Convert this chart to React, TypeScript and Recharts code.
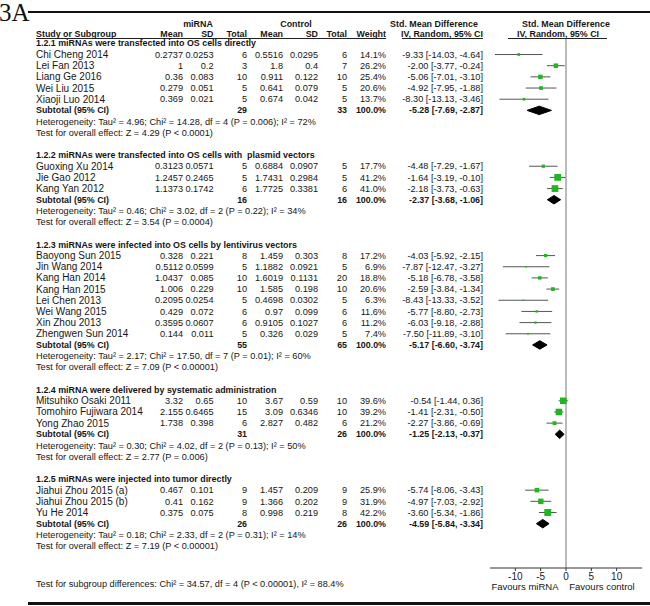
import React from 'react';
import { ScatterChart, Scatter, XAxis, YAxis, ErrorBar, ReferenceLine } from 'recharts';

// ---------- data ----------
const groupTitles = [
  '1.2.1 miRNAs were transfected into OS cells directly',
  '1.2.2 miRNAs were transfected into OS cells with  plasmid vectors',
  '1.2.3 miRNAs were infected into OS cells by lentivirus vectors',
  '1.2.4 miRNA were delivered by systematic administration',
  '1.2.5 miRNAs were injected into tumor directly',
];

const studyNames = [
  'Chi Cheng 2014', 'Lei Fan 2013', 'Liang Ge 2016', 'Wei Liu 2015', 'Xiaoji Luo 2014',
  'Guoxing Xu 2014', 'Jie Gao 2012', 'Kang Yan 2012',
  'Baoyong Sun 2015', 'Jin Wang 2014', 'Kang Han 2014', 'Kang Han 2015', 'Lei Chen 2013', 'Wei Wang 2015', 'Xin Zhou 2013', 'Zhengwen Sun 2014',
  'Mitsuhiko Osaki 2011', 'Tomohiro Fujiwara 2014', 'Yong Zhao 2015',
  'Jiahui Zhou 2015 (a)', 'Jiahui Zhou 2015 (b)', 'Yu He 2014',
];
const studyGroup = [0, 0, 0, 0, 0, 1, 1, 1, 2, 2, 2, 2, 2, 2, 2, 2, 3, 3, 3, 4, 4, 4];
const mirnaMean = ['0.2737', '1', '0.36', '0.279', '0.369', '0.3123', '1.2457', '1.1373', '0.328', '0.5112', '1.0437', '1.006', '0.2095', '0.429', '0.3595', '0.144', '3.32', '2.155', '1.738', '0.467', '0.41', '0.375'];
const mirnaSD = ['0.0253', '0.2', '0.083', '0.051', '0.021', '0.0571', '0.2465', '0.1742', '0.221', '0.0599', '0.085', '0.229', '0.0254', '0.072', '0.0607', '0.011', '0.65', '0.6465', '0.398', '0.101', '0.162', '0.075'];
const mirnaTotal = [6, 3, 10, 5, 5, 5, 5, 6, 8, 5, 10, 10, 5, 6, 6, 5, 10, 15, 6, 9, 9, 8];
const controlMean = ['0.5516', '1.8', '0.911', '0.641', '0.674', '0.6884', '1.7431', '1.7725', '1.459', '1.1882', '1.6019', '1.585', '0.4698', '0.97', '0.9105', '0.326', '3.67', '3.09', '2.827', '1.457', '1.366', '0.998'];
const controlSD = ['0.0295', '0.4', '0.122', '0.079', '0.042', '0.0907', '0.2984', '0.3381', '0.303', '0.0921', '0.1131', '0.198', '0.0302', '0.099', '0.1027', '0.029', '0.59', '0.6346', '0.482', '0.209', '0.202', '0.219'];
const controlTotal = [6, 7, 10, 5, 5, 5, 5, 6, 8, 5, 20, 10, 5, 6, 6, 5, 10, 10, 6, 9, 9, 8];
const weightPct = [14.1, 26.2, 25.4, 20.6, 13.7, 17.7, 41.2, 41.0, 17.2, 6.9, 18.8, 20.6, 6.3, 11.6, 11.2, 7.4, 39.6, 39.2, 21.2, 25.9, 31.9, 42.2];
const smd = [-9.33, -2.0, -5.06, -4.92, -8.3, -4.48, -1.64, -2.18, -4.03, -7.87, -5.18, -2.59, -8.43, -5.77, -6.03, -7.5, -0.54, -1.41, -2.27, -5.74, -4.97, -3.6];
const ciLower = [-14.03, -3.77, -7.01, -7.95, -13.13, -7.29, -3.19, -3.73, -5.92, -12.47, -6.78, -3.84, -13.33, -8.8, -9.18, -11.89, -1.44, -2.31, -3.86, -8.06, -7.03, -5.34];
const ciUpper = [-4.64, -0.24, -3.1, -1.88, -3.46, -1.67, -0.1, -0.63, -2.15, -3.27, -3.58, -1.34, -3.52, -2.73, -2.88, -3.1, 0.36, -0.5, -0.69, -3.43, -2.92, -1.86];

const subMirnaTotal = [29, 16, 55, 31, 26];
const subControlTotal = [33, 16, 65, 26, 26];
const subSmd = [-5.28, -2.37, -5.17, -1.25, -4.59];
const subLower = [-7.69, -3.68, -6.6, -2.13, -5.84];
const subUpper = [-2.87, -1.06, -3.74, -0.37, -3.34];
const heterogeneity = [
  'Heterogeneity: Tau\u00b2 = 4.96; Chi\u00b2 = 14.28, df = 4 (P = 0.006); I\u00b2 = 72%',
  'Heterogeneity: Tau\u00b2 = 0.46; Chi\u00b2 = 3.02, df = 2 (P = 0.22); I\u00b2 = 34%',
  'Heterogeneity: Tau\u00b2 = 2.17; Chi\u00b2 = 17.50, df = 7 (P = 0.01); I\u00b2 = 60%',
  'Heterogeneity: Tau\u00b2 = 0.30; Chi\u00b2 = 4.02, df = 2 (P = 0.13); I\u00b2 = 50%',
  'Heterogeneity: Tau\u00b2 = 0.18; Chi\u00b2 = 2.33, df = 2 (P = 0.31); I\u00b2 = 14%',
];
const overallEffect = [
  'Test for overall effect: Z = 4.29 (P < 0.0001)',
  'Test for overall effect: Z = 3.54 (P = 0.0004)',
  'Test for overall effect: Z = 7.09 (P < 0.00001)',
  'Test for overall effect: Z = 2.77 (P = 0.006)',
  'Test for overall effect: Z = 7.19 (P < 0.00001)',
];
const subgroupTest = 'Test for subgroup differences: Chi\u00b2 = 34.57, df = 4 (P < 0.00001), I\u00b2 = 88.4%';
const headerGroups = ['miRNA', 'Control', 'Std. Mean Difference', 'Std. Mean Difference'];
const headerCols = ['Mean', 'SD', 'Total', 'Mean', 'SD', 'Total', 'Weight', 'IV, Random, 95% CI'];
const plotHeader = 'IV, Random, 95% CI';
const xTicks = [-10, -5, 0, 5, 10];
const favourLabels = ['Favours miRNA', 'Favours control'];

// ---------- layout / style ----------
const FONT = '"Liberation Sans", Arial, Helvetica, sans-serif';
const TEXT = '#161616';
const GREEN = '#1cb81c';
const NAME = 10;
const NUM = 9.2;
const NOTE = 9.2;
const BOLD = 8.9;
const COLS = [183, 213.5, 247, 283, 318, 347, 386, 483];
const NAME_X = 36;
const Y_TOP = -1.39;
const Y_BOTTOM = 45.97;

const fmt = (v: number) => v.toFixed(2);
const ciText = (e: number, l: number, u: number) => `${fmt(e)} [${fmt(l)}, ${fmt(u)}]`;

// build rows
type TRow = { x: number; y: number; kind: string; i: number };
const tableRows: TRow[] = [];
const studyPoints: { x: number; y: number; err: number[]; w: number }[] = [];
const diamondSeries: { x: number; y: number }[][] = [];
{
  let idx = 0;
  groupTitles.forEach((_, g) => {
    tableRows.push({ x: 0, y: idx - 1, kind: 'group', i: g });
    studyNames.forEach((__, s) => {
      if (studyGroup[s] !== g) return;
      tableRows.push({ x: 0, y: idx, kind: 'study', i: s });
      studyPoints.push({ x: smd[s], y: idx, err: [smd[s] - ciLower[s], ciUpper[s] - smd[s]], w: weightPct[s] });
      idx++;
    });
    tableRows.push({ x: 0, y: idx, kind: 'subtotal', i: g });
    const h = 0.38;
    diamondSeries.push([
      { x: subLower[g], y: idx },
      { x: subSmd[g], y: idx - h },
      { x: subUpper[g], y: idx },
      { x: subSmd[g], y: idx + h },
      { x: subLower[g], y: idx },
    ]);
    idx++;
    tableRows.push({ x: 0, y: idx, kind: 'het', i: g });
    idx++;
    tableRows.push({ x: 0, y: idx, kind: 'test', i: g });
    idx++;
    idx += 2;
  });
}

const T = (p: any) => (
  <text fontFamily={FONT} fill={TEXT} dy="0.35em" style={{ whiteSpace: 'pre' }} {...p} />
);

const TableRowShape = (props: any) => {
  const { cy, payload } = props;
  const r: TRow = payload;
  if (r.kind === 'group') {
    return <T x={NAME_X} y={cy} fontSize={BOLD} fontWeight="bold">{groupTitles[r.i]}</T>;
  }
  if (r.kind === 'study') {
    const s = r.i;
    const vals = [mirnaMean[s], mirnaSD[s], String(mirnaTotal[s]), controlMean[s], controlSD[s], String(controlTotal[s]), `${weightPct[s].toFixed(1)}%`, ciText(smd[s], ciLower[s], ciUpper[s])];
    return (
      <g>
        <T x={NAME_X} y={cy} fontSize={NAME}>{studyNames[s]}</T>
        {vals.map((v, k) => (
          <T key={k} x={COLS[k]} y={cy} fontSize={NUM} textAnchor="end">{v}</T>
        ))}
      </g>
    );
  }
  if (r.kind === 'subtotal') {
    const g = r.i;
    return (
      <g>
        <T x={NAME_X} y={cy} fontSize={BOLD} fontWeight="bold">Subtotal (95% CI)</T>
        <T x={COLS[2]} y={cy} fontSize={BOLD} fontWeight="bold" textAnchor="end">{subMirnaTotal[g]}</T>
        <T x={COLS[5]} y={cy} fontSize={BOLD} fontWeight="bold" textAnchor="end">{subControlTotal[g]}</T>
        <T x={COLS[6]} y={cy} fontSize={BOLD} fontWeight="bold" textAnchor="end">100.0%</T>
        <T x={COLS[7]} y={cy} fontSize={BOLD} fontWeight="bold" textAnchor="end">{ciText(subSmd[g], subLower[g], subUpper[g])}</T>
      </g>
    );
  }
  if (r.kind === 'het') {
    return <T x={NAME_X} y={cy} fontSize={NOTE}>{heterogeneity[r.i]}</T>;
  }
  return <T x={NAME_X} y={cy} fontSize={NOTE}>{overallEffect[r.i]}</T>;
};

const SquareShape = (props: any) => {
  const { cx, cy, payload } = props;
  const s = 0.15 * payload.w + 0.6;
  return <rect x={cx - s / 2} y={cy - s / 2} width={s} height={s} fill={GREEN} />;
};

const Empty = () => <g />;

export default function App() {
  return (
    <div style={{ position: 'absolute', left: 0, top: 0, width: 650, height: 606, background: '#fff' }}>
      <ScatterChart width={650} height={606} margin={{ top: 39, right: 8, bottom: 8, left: 490 }}>
        <XAxis
          type="number"
          dataKey="x"
          domain={[-15, 15]}
          ticks={xTicks}
          interval={0}
          height={30}
          tickSize={3}
          tickMargin={2}
          axisLine={{ stroke: '#333' }}
          tickLine={{ stroke: '#333' }}
          tick={{ fontSize: 10, fill: '#222', fontFamily: FONT }}
        />
        <YAxis type="number" dataKey="y" domain={[Y_TOP, Y_BOTTOM]} reversed hide />
        <ReferenceLine x={0} stroke="#777" strokeWidth={1} />
        <Scatter data={tableRows} shape={TableRowShape} isAnimationActive={false} />
        <Scatter data={studyPoints} shape={SquareShape} fill={GREEN} isAnimationActive={false}>
          <ErrorBar dataKey="err" direction="x" width={0} stroke="#555" strokeWidth={1} />
        </Scatter>
        {diamondSeries.map((d, k) => (
          <Scatter
            key={k}
            data={d}
            fill="#000"
            line={{ fill: '#000', stroke: '#000', strokeWidth: 1 }}
            shape={Empty}
            isAnimationActive={false}
          />
        ))}
      </ScatterChart>
      <svg width={650} height={606} style={{ position: 'absolute', left: 0, top: 0, pointerEvents: 'none' }}>
        <text x={-1} y={21} fontFamily='"Liberation Serif", "Times New Roman", serif' fontSize={25} fill="#111">3A</text>
        <line x1={28} x2={650} y1={12} y2={12} stroke="#111" strokeWidth={2} />
        <T x={198} y={23.5} fontSize={BOLD} fontWeight="bold" textAnchor="middle">{headerGroups[0]}</T>
        <T x={296} y={23.5} fontSize={BOLD} fontWeight="bold" textAnchor="middle">{headerGroups[1]}</T>
        <T x={434} y={23.5} fontSize={BOLD} fontWeight="bold" textAnchor="middle">{headerGroups[2]}</T>
        <T x={566} y={23.5} fontSize={BOLD} fontWeight="bold" textAnchor="middle">{headerGroups[3]}</T>
        <T x={NAME_X} y={33.5} fontSize={BOLD} fontWeight="bold">Study or Subgroup</T>
        {headerCols.map((h, k) => (
          <T key={k} x={COLS[k]} y={33.5} fontSize={BOLD} fontWeight="bold" textAnchor="end">{h}</T>
        ))}
        <T x={558} y={33.5} fontSize={BOLD} fontWeight="bold" textAnchor="middle">{plotHeader}</T>
        <line x1={36} x2={386} y1={38.5} y2={38.5} stroke="#222" strokeWidth={1} />
        <line x1={402} x2={483} y1={38.5} y2={38.5} stroke="#222" strokeWidth={1} />
        <line x1={508} x2={607} y1={38.5} y2={38.5} stroke="#222" strokeWidth={1} />
        <T x={NAME_X} y={584} fontSize={NOTE}>{subgroupTest}</T>
        <T x={525} y={587} fontSize={NOTE + 0.3} textAnchor="middle">{favourLabels[0]}</T>
        <T x={602} y={587} fontSize={NOTE + 0.3} textAnchor="middle">{favourLabels[1]}</T>
        <line x1={28} x2={650} y1={603.5} y2={603.5} stroke="#111" strokeWidth={3} />
      </svg>
    </div>
  );
}
